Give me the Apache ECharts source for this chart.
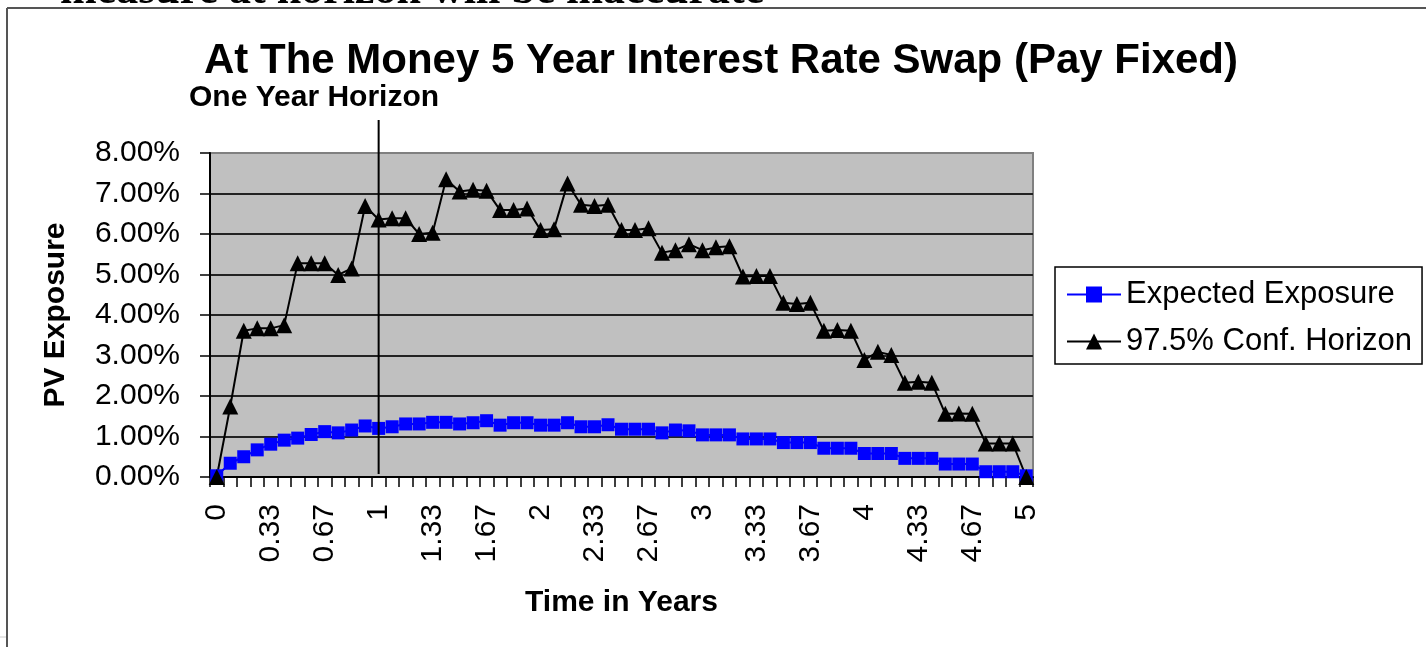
<!DOCTYPE html>
<html>
<head>
<meta charset="utf-8">
<script src="https://cdn.jsdelivr.net/npm/echarts@6/dist/echarts.min.js"></script>
<style>
  html, body { margin: 0; padding: 0; background: #fff; }
  #chart { width: 1426px; height: 647px; }
</style>
</head>
<body>
<div id="chart"></div>
<script>
// time in years, one point per month
const categories = [
  '0', '0.08', '0.17', '0.25', '0.33', '0.42', '0.5', '0.58', '0.67', '0.75', '0.83', '0.92',
  '1', '1.08', '1.17', '1.25', '1.33', '1.42', '1.5', '1.58', '1.67', '1.75', '1.83', '1.92',
  '2', '2.08', '2.17', '2.25', '2.33', '2.42', '2.5', '2.58', '2.67', '2.75', '2.83', '2.92',
  '3', '3.08', '3.17', '3.25', '3.33', '3.42', '3.5', '3.58', '3.67', '3.75', '3.83', '3.92',
  '4', '4.08', '4.17', '4.25', '4.33', '4.42', '4.5', '4.58', '4.67', '4.75', '4.83', '4.92',
  '5'
];

// PV exposure in %
const expectedExposure = [
  0.03, 0.34, 0.50, 0.67, 0.81, 0.91, 0.96, 1.05, 1.12, 1.09, 1.16, 1.26,
  1.20, 1.24, 1.31, 1.31, 1.35, 1.35, 1.31, 1.34, 1.39, 1.28, 1.34, 1.34,
  1.28, 1.28, 1.34, 1.24, 1.24, 1.29, 1.18, 1.18, 1.18, 1.09, 1.16, 1.14,
  1.04, 1.04, 1.04, 0.94, 0.94, 0.94, 0.85, 0.85, 0.85, 0.71, 0.71, 0.71,
  0.58, 0.58, 0.58, 0.46, 0.46, 0.46, 0.32, 0.32, 0.32, 0.13, 0.13, 0.13,
  0.03
];

const confHorizon = [
  0.00, 1.74, 3.61, 3.67, 3.67, 3.75, 5.28, 5.28, 5.28, 4.99, 5.15, 6.69,
  6.36, 6.39, 6.39, 6.00, 6.03, 7.35, 7.05, 7.09, 7.07, 6.59, 6.59, 6.63,
  6.10, 6.12, 7.25, 6.72, 6.69, 6.72, 6.10, 6.10, 6.14, 5.54, 5.60, 5.75,
  5.60, 5.67, 5.70, 4.95, 4.96, 4.96, 4.30, 4.27, 4.30, 3.61, 3.63, 3.61,
  2.89, 3.09, 3.01, 2.33, 2.35, 2.33, 1.56, 1.57, 1.56, 0.83, 0.83, 0.83,
  0.00
];

const horizonCategory = '1';
const font = 'Liberation Sans, Arial, sans-serif';

let chart = echarts.init(document.getElementById('chart'));
let option = {
  animation: false,
  backgroundColor: '#fff',
  title: [
    {
      text: 'At The Money 5 Year Interest Rate Swap (Pay Fixed)',
      left: 204,
      top: 40,
      padding: 0,
      textStyle: { fontFamily: font, fontSize: 42, fontWeight: 'bold', color: '#000' }
    },
    {
      text: 'One Year Horizon',
      left: 189,
      top: 83,
      padding: 0,
      textStyle: { fontFamily: font, fontSize: 30, fontWeight: 'bold', color: '#000' }
    }
  ],
  legend: {
    orient: 'vertical',
    left: 1055,
    top: 267,
    padding: [10, 10, 5, 11],
    itemGap: 12,
    itemWidth: 54,
    itemHeight: 20,
    borderColor: '#000',
    borderWidth: 1.5,
    textStyle: { fontFamily: font, fontSize: 31, color: '#000', lineHeight: 35 },
    data: ['Expected Exposure', '97.5% Conf. Horizon']
  },
  grid: {
    left: 210,
    right: 393,
    top: 153,
    bottom: 170,
    show: true,
    backgroundColor: '#c0c0c0',
    borderColor: '#808080',
    borderWidth: 2
  },
  xAxis: {
    type: 'category',
    data: categories,
    boundaryGap: true,
    name: 'Time in Years',
    nameLocation: 'middle',
    nameGap: 111,
    nameTextStyle: { fontFamily: font, fontSize: 30, fontWeight: 'bold', color: '#000' },
    axisLine: { lineStyle: { color: '#000', width: 2 } },
    axisTick: { show: true, interval: 0, length: 10, lineStyle: { color: '#000', width: 1.5 } },
    axisLabel: {
      interval: 3,
      rotate: 90,
      margin: 27,
      fontFamily: font,
      fontSize: 30,
      color: '#000'
    },
    splitLine: { show: false }
  },
  yAxis: {
    type: 'value',
    min: 0,
    max: 8,
    interval: 1,
    name: 'PV Exposure',
    nameLocation: 'middle',
    nameGap: 139,
    nameRotate: 90,
    nameTextStyle: { fontFamily: font, fontSize: 30, fontWeight: 'bold', color: '#000' },
    axisLine: { show: true, lineStyle: { color: '#000', width: 2 } },
    axisTick: { show: true, length: 10, lineStyle: { color: '#000', width: 1.5 } },
    axisLabel: {
      margin: 30,
      fontFamily: font,
      fontSize: 30,
      color: '#000',
      formatter: v => v.toFixed(2) + '%'
    },
    splitLine: { show: true, showMaxLine: false, lineStyle: { color: '#222', width: 2 } }
  },
  series: [
    {
      name: 'Expected Exposure',
      type: 'line',
      data: expectedExposure,
      color: '#0000ff',
      symbol: 'rect',
      symbolSize: 13,
      showAllSymbol: true,
      lineStyle: { color: '#0000ff', width: 2 },
      itemStyle: { color: '#0000ff' }
    },
    {
      name: '97.5% Conf. Horizon',
      type: 'line',
      data: confHorizon,
      color: '#000',
      symbol: 'triangle',
      symbolSize: 16,
      showAllSymbol: true,
      lineStyle: { color: '#000', width: 2 },
      itemStyle: { color: '#000' }
    }
  ]
};
chart.setOption(option);

// horizon marker line and the page frame around the chart
let hx = chart.convertToPixel({ xAxisIndex: 0 }, horizonCategory);
let y0 = chart.convertToPixel({ yAxisIndex: 0 }, 0);
chart.setOption({
  graphic: [
    {
      type: 'line',
      shape: { x1: hx, y1: 120, x2: hx, y2: y0 - 3 },
      style: { stroke: '#000', lineWidth: 2 },
      z: 100
    },
    {
      type: 'text',
      left: 60,
      top: -30,
      style: {
        text: 'measure at horizon will be inaccurate',
        font: 'bold 44px "Liberation Serif", "Times New Roman", serif',
        fill: '#000'
      }
    },
    {
      type: 'rect',
      shape: { x: 0, y: 7, width: 1426, height: 640 },
      style: { fill: '#fff' },
      z: -10
    },
    {
      type: 'line',
      shape: { x1: 7, y1: 8, x2: 1426, y2: 8 },
      style: { stroke: '#555', lineWidth: 2 }
    },
    {
      type: 'line',
      shape: { x1: 7, y1: 8, x2: 7, y2: 647 },
      style: { stroke: '#555', lineWidth: 2 }
    },
    {
      type: 'line',
      shape: { x1: 0, y1: 637, x2: 6, y2: 637 },
      style: { stroke: '#ccc', lineWidth: 1 }
    }
  ]
});
</script>
</body>
</html>
